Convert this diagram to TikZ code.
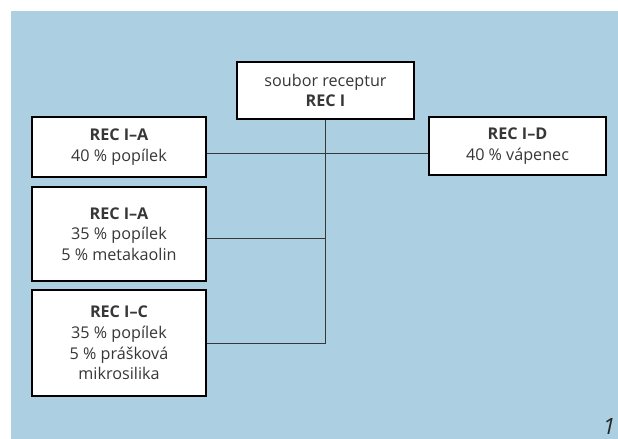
\documentclass[tikz,border=0pt]{standalone}
\usepackage{fontspec}
\setmainfont{Open Sans}
\usetikzlibrary{calc}
\definecolor{panelblue}{RGB}{172,208,226}
\definecolor{inkgray}{RGB}{55,55,55}
\tikzset{
	recbox/.style={draw=black, line width=1.4pt, fill=white, align=center, text=inkgray, inner sep=0pt,
		font=\fontsize{11.5}{14.7}\selectfont},
	link/.style={draw=inkgray, line width=0.7pt}
}

\begin{document}
\begin{tikzpicture}[x=0.025cm, y=-0.025cm]

	\useasboundingbox (0,0) rectangle (618,439);
	\fill[panelblue] (11,11) rectangle (618,439);

	\node[recbox, minimum width=4.425cm, minimum height=1.425cm] (root) at (325.5,90.5) {soubor receptur\\\textbf{REC I}};

	\node[recbox, minimum width=4.35cm, minimum height=1.5cm]   (recA) at (119,147)   {\textbf{REC I–A}\\40 \% popílek};
	\node[recbox, minimum width=4.425cm, minimum height=1.45cm] (recD) at (517.5,146) {\textbf{REC I–D}\\40 \% vápenec};
	\node[recbox, minimum width=4.35cm, minimum height=2.35cm]  (recB) at (119,234)   {\textbf{REC I–A}\\35 \% popílek\\5 \% metakaolin};
	\node[recbox, minimum width=4.35cm, minimum height=2.65cm]  (recC) at (119,343)   {\textbf{REC I–C}\\35 \% popílek\\5 \% prášková\\mikrosilika};

	% tree lines
	\draw[link] (root.south) -- (root.south |- recC.east) coordinate (spine);
	\draw[link] ($(recA.east)+(0,6)$) coordinate (a) -- (a -| recD.west);
	\draw[link] ($(recB.east)+(0,4)$) coordinate (b) -- (b -| spine);
	\draw[link] (recC.east) -- (spine);

	\node[font=\itshape\fontsize{16}{16}\selectfont, text=black!85, inner sep=1pt] (fignum) at (609,426) {1};

\end{tikzpicture}
\end{document}
